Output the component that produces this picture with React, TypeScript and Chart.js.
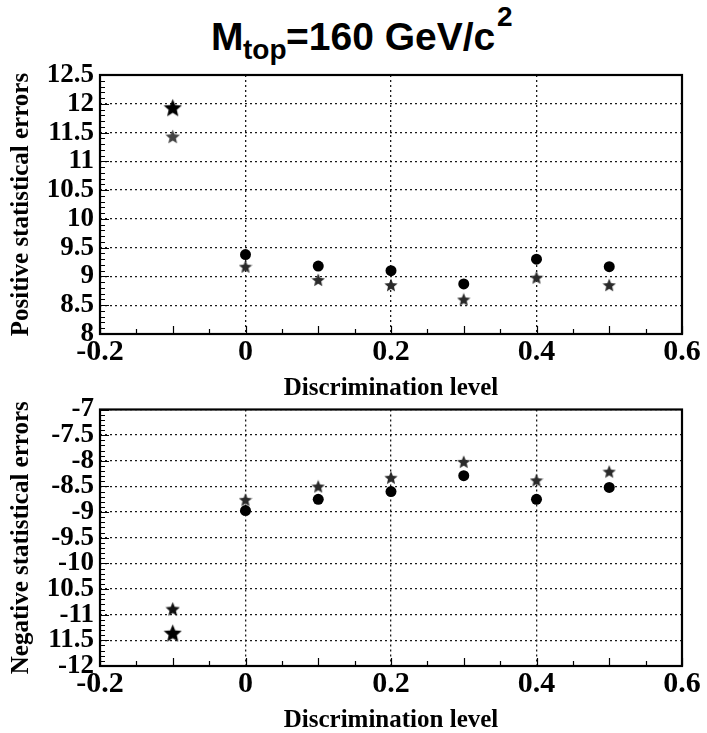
import React, { useEffect, useRef } from "react";
import { Chart, registerables } from "chart.js";

Chart.register(...registerables);

// ---------- data ----------
const discriminationLevels = [0, 0.1, 0.2, 0.3, 0.4, 0.5];
const noDiscriminationLevel = [-0.1];

// positive statistical errors
const positiveCircles = [9.38, 9.18, 9.1, 8.87, 9.3, 9.17];
const positiveStars = [9.17, 8.94, 8.85, 8.6, 8.98, 8.85];
const positiveNoDiscBig = [11.93];
const positiveNoDiscSmall = [11.43];

// negative statistical errors
const negativeCircles = [-8.97, -8.75, -8.6, -8.29, -8.75, -8.52];
const negativeStars = [-8.76, -8.5, -8.33, -8.02, -8.38, -8.21];
const negativeNoDiscBig = [-11.36];
const negativeNoDiscSmall = [-10.89];

// tick labels (as printed)
const xTickLabels = ["-0.2", "0", "0.2", "0.4", "0.6"];
const topYTickLabels = ["8", "8.5", "9", "9.5", "10", "10.5", "11", "11.5", "12", "12.5"];
const bottomYTickLabels = ["-12", "11.5", "-11", "10.5", "-10", "-9.5", "-9", "-8.5", "-8", "-7.5", "-7"];

const SERIF = '"Liberation Serif", "Times New Roman", "DejaVu Serif", serif';

function makeStar(size: number, color: string): HTMLCanvasElement {
  const c = document.createElement("canvas");
  c.width = size;
  c.height = size;
  const g = c.getContext("2d")!;
  const R = size / 2;
  const r = R * 0.45;
  g.fillStyle = color;
  g.beginPath();
  for (let i = 0; i < 10; i++) {
    const ang = -Math.PI / 2 + (i * Math.PI) / 5;
    const rad = i % 2 === 0 ? R : r;
    const px = R + rad * Math.cos(ang);
    const py = R + rad * Math.sin(ang) + size * 0.04;
    if (i === 0) g.moveTo(px, py);
    else g.lineTo(px, py);
  }
  g.closePath();
  g.fill();
  return c;
}

const framePlugin = {
  id: "frameTicks",
  afterDatasetsDraw(chart: any) {
    const { ctx, chartArea: a, scales } = chart;
    const xs = scales.x;
    const ys = scales.y;
    ctx.save();
    ctx.strokeStyle = "#000";
    ctx.lineWidth = 1.2;
    ctx.beginPath();
    const nx = Math.round((xs.max - xs.min) / 0.05);
    for (let i = 0; i <= nx; i++) {
      const v = xs.min + i * 0.05;
      const px = Math.round(xs.getPixelForValue(v)) + 0.5;
      const len = i % 2 === 0 ? 8 : 5;
      ctx.moveTo(px, a.bottom);
      ctx.lineTo(px, a.bottom - len);
    }
    const ny = Math.round((ys.max - ys.min) / 0.1);
    for (let i = 0; i <= ny; i++) {
      const v = ys.min + i * 0.1;
      const py = Math.round(ys.getPixelForValue(v)) + 0.5;
      const len = i % 5 === 0 ? 9 : 5;
      ctx.moveTo(a.left, py);
      ctx.lineTo(a.left + len, py);
    }
    ctx.stroke();
    ctx.lineWidth = 2.2;
    ctx.strokeRect(a.left, a.top, a.right - a.left, a.bottom - a.top);
    ctx.restore();
  },
};

function buildConfig(opts: {
  circles: number[];
  stars: number[];
  noDiscBig: number[];
  noDiscSmall: number[];
  yMin: number;
  yMax: number;
  yLabels: string[];
  yTitle: string;
  padTop: number;
  xHeight: number;
  xTitlePadBottom: number;
  smallStarColor: string;
}) {
  const bigStar = makeStar(19, "#000");
  const smallStar = makeStar(15, opts.smallStarColor);
  const levelStar = makeStar(14, "#2a2a2a");
  const toPts = (xs: number[], ys: number[]) => xs.map((x, i) => ({ x, y: ys[i] }));
  return {
    type: "scatter" as const,
    data: {
      datasets: [
        {
          label: "stars",
          data: toPts(discriminationLevels, opts.stars),
          pointStyle: levelStar,
          backgroundColor: "#2a2a2a",
          borderColor: "#2a2a2a",
        },
        {
          label: "circles",
          data: toPts(discriminationLevels, opts.circles),
          pointStyle: "circle",
          pointRadius: 5.5,
          backgroundColor: "#000",
          borderColor: "#000",
          borderWidth: 0,
        },
        {
          label: "no discrimination (small)",
          data: toPts(noDiscriminationLevel, opts.noDiscSmall),
          pointStyle: smallStar,
          backgroundColor: opts.smallStarColor,
        },
        {
          label: "no discrimination (big)",
          data: toPts(noDiscriminationLevel, opts.noDiscBig),
          pointStyle: bigStar,
          backgroundColor: "#000",
        },
      ],
    },
    options: {
      responsive: false,
      animation: false as const,
      events: [],
      layout: { padding: { top: opts.padTop, right: 25, left: 0, bottom: 0 } },
      plugins: {
        legend: { display: false },
        tooltip: { enabled: false },
        title: { display: false },
      },
      scales: {
        x: {
          type: "linear" as const,
          min: -0.2,
          max: 0.6,
          afterFit(s: any) {
            s.height = opts.xHeight;
          },
          ticks: {
            stepSize: 0.2,
            autoSkip: false,
            maxRotation: 0,
            padding: 0,
            color: "#000",
            font: { family: SERIF, weight: "bold" as const, size: 30, lineHeight: 1.2 },
            callback: (_v: any, i: number) => xTickLabels[i],
          },
          grid: { drawTicks: false, color: "#1a1a1a", lineWidth: 1.3 },
          border: { display: false, dash: [2, 3] },
          title: {
            display: true,
            text: "Discrimination level",
            color: "#000",
            font: { family: SERIF, weight: "bold" as const, size: 25, lineHeight: 1 },
            padding: { top: 0, bottom: opts.xTitlePadBottom },
          },
        },
        y: {
          type: "linear" as const,
          min: opts.yMin,
          max: opts.yMax,
          afterFit(s: any) {
            s.width = 100;
          },
          ticks: {
            stepSize: 0.5,
            autoSkip: false,
            padding: 6,
            color: "#000",
            font: { family: SERIF, weight: "bold" as const, size: 27, lineHeight: 1 },
            callback: (_v: any, i: number) => opts.yLabels[i],
          },
          grid: { drawTicks: false, color: "#1a1a1a", lineWidth: 1.3 },
          border: { display: false, dash: [2, 3] },
          title: {
            display: true,
            text: opts.yTitle,
            color: "#000",
            font: { family: SERIF, weight: "bold" as const, size: 25, lineHeight: 1.2 },
            padding: { top: 7, bottom: 0 },
          },
        },
      },
    },
    plugins: [framePlugin],
  };
}

function ChartCanvas(props: { top: number; height: number; config: () => any }) {
  const ref = useRef<HTMLCanvasElement | null>(null);
  useEffect(() => {
    if (!ref.current) return;
    const chart = new Chart(ref.current, props.config());
    return () => chart.destroy();
  }, []);
  return (
    <canvas
      ref={ref}
      width={707}
      height={props.height}
      style={{ position: "absolute", left: 0, top: props.top, width: 707, height: props.height }}
    />
  );
}

export default function App() {
  const titleFont = '"Liberation Sans", Arial, Helvetica, sans-serif';
  const big = 39;
  const small = 28;
  const span = (left: number, baseline: number, size: number, text: string) => (
    <span
      style={{
        position: "absolute",
        left,
        top: baseline - size * 0.8465,
        fontFamily: titleFont,
        fontWeight: "bold",
        fontSize: size,
        lineHeight: `${size}px`,
        whiteSpace: "pre",
        color: "#000",
      }}
    >
      {text}
    </span>
  );
  return (
    <div style={{ position: "absolute", left: 0, top: 0, width: 707, height: 733, background: "#fff", overflow: "hidden" }}>
      <div style={{ position: "absolute", left: 0, top: 0, width: 707, height: 70 }}>
        {span(211, 50, big, "M")}
        {span(243, 60, small, "top")}
        {span(286, 50, big, "=160 GeV/c")}
        {span(497, 27, small, "2")}
      </div>
      <ChartCanvas
        top={0}
        height={410}
        config={() =>
          buildConfig({
            circles: positiveCircles,
            stars: positiveStars,
            noDiscBig: positiveNoDiscBig,
            noDiscSmall: positiveNoDiscSmall,
            yMin: 8,
            yMax: 12.5,
            yLabels: topYTickLabels,
            yTitle: "Positive statistical errors",
            padTop: 75,
            xHeight: 76,
            xTitlePadBottom: 8.5,
            smallStarColor: "#444",
          })
        }
      />
      <ChartCanvas
        top={390}
        height={343}
        config={() =>
          buildConfig({
            circles: negativeCircles,
            stars: negativeStars,
            noDiscBig: negativeNoDiscBig,
            noDiscSmall: negativeNoDiscSmall,
            yMin: -12,
            yMax: -7,
            yLabels: bottomYTickLabels,
            yTitle: "Negative statistical errors",
            padTop: 19,
            xHeight: 67,
            xTitlePadBottom: 0,
            smallStarColor: "#111",
          })
        }
      />
    </div>
  );
}
